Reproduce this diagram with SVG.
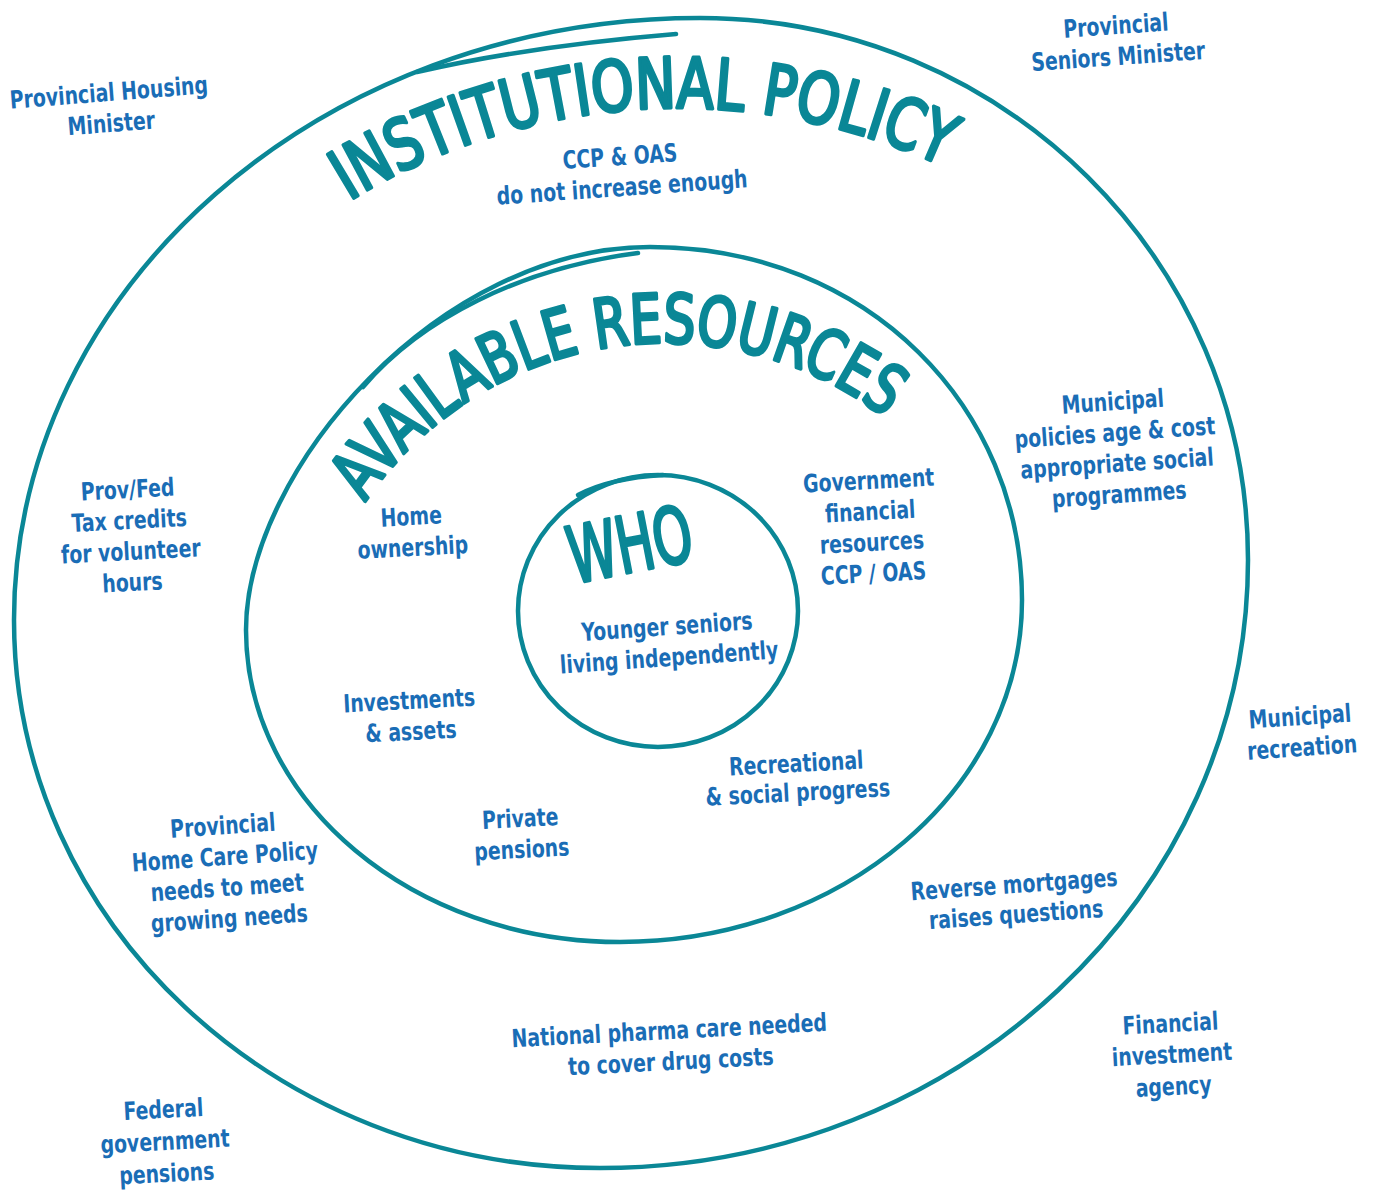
<svg xmlns="http://www.w3.org/2000/svg" width="1377" height="1192" viewBox="0 0 1377 1192">
  <defs>
    <style>
      .ring { fill: none; stroke: #0a8796; stroke-width: 4.5; stroke-linecap: round; stroke-linejoin: round; }
      .title { fill: #0a8796; stroke: #0a8796; stroke-width: 3.4; stroke-linejoin: round; stroke-linecap: round; font-family: "DejaVu Sans Condensed", "Liberation Sans Narrow", "Liberation Sans", sans-serif; font-weight: normal; }
      .label { fill: #1a6db6; font-family: "DejaVu Sans Condensed", "Liberation Sans Narrow", "Liberation Sans", sans-serif; font-weight: bold; font-size: 25px; text-anchor: middle; }
    </style>
    <!-- baselines for the curved headings -->
    <path id="arc-policy" d="M349,201 A630,630 0 0 1 949,169"/>
    <path id="arc-resources" d="M365,502 A362,362 0 0 1 898,428"/>
  </defs>

  <rect width="1377" height="1192" fill="#ffffff"/>

  <!-- rings, each with the overlapping start of its pen stroke -->
  <g id="connectors">
    <path class="ring" d="M700,18 C1003,18 1248,261 1248,560 C1248,896 958,1168 600,1168 C276,1168 14,923 14,620 C14,288 321,18 700,18 Z"/>
    <path class="ring" d="M417,72 Q530,46 676,34"/>
    <path class="ring" d="M650,247 C870,247 1022,410 1022,600 C1022,789 842,942 620,942 C413,942 246,802 246,630 C246,470 440,247 650,247 Z"/>
    <path class="ring" d="M363,387 C420,320 520,268 638,253"/>
    <ellipse class="ring" cx="658" cy="611" rx="140" ry="136"/>
    <path class="ring" d="M578,495 Q610,478 663,475"/>
  </g>

  <!-- outer ring: institutional policy -->
  <g id="institutional-policy">
    <text class="title" font-size="70"><textPath href="#arc-policy" textLength="620" lengthAdjust="spacingAndGlyphs">INSTITUTIONAL POLICY</textPath></text>
  </g>

  <!-- middle ring: available resources -->
  <g id="available-resources">
    <text class="title" font-size="68"><textPath href="#arc-resources" textLength="590" lengthAdjust="spacingAndGlyphs">AVAILABLE RESOURCES</textPath></text>
  </g>

  <!-- inner ring: who -->
  <g id="who">
    <text class="title" font-size="78" x="630" y="572" text-anchor="middle" textLength="125" lengthAdjust="spacingAndGlyphs" transform="rotate(-11 630 545)">WHO</text>
  </g>

  <!-- labels: each block is centred on its own origin -->
  <g id="provincial-housing-minister" transform="translate(110 108) rotate(-4.5)">
    <text class="label" transform="scale(0.84 1)"><tspan x="0" y="-7">Provincial Housing</tspan><tspan x="0" y="24">Minister</tspan></text>
  </g>
  <g id="provincial-seniors-minister" transform="translate(1117 41) rotate(-4)">
    <text class="label" transform="scale(0.84 1)"><tspan x="0" y="-7">Provincial</tspan><tspan x="0" y="24">Seniors Minister</tspan></text>
  </g>
  <g id="ccp-oas" transform="translate(621 172) rotate(-4)">
    <text class="label" transform="scale(0.84 1)"><tspan x="0" y="-7">CCP &amp; OAS</tspan><tspan x="0" y="24">do not increase enough</tspan></text>
  </g>
  <g id="municipal-policies" transform="translate(1116 448) rotate(-4)">
    <text class="label" transform="scale(0.84 1)"><tspan x="0" y="-38">Municipal</tspan><tspan x="0" y="-7">policies age &amp; cost</tspan><tspan x="0" y="24">appropriate social</tspan><tspan x="0" y="55">programmes</tspan></text>
  </g>
  <g id="tax-credits" transform="translate(130 536) rotate(-3)">
    <text class="label" transform="scale(0.84 1)"><tspan x="0" y="-38">Prov/Fed</tspan><tspan x="0" y="-7">Tax credits</tspan><tspan x="0" y="24">for volunteer</tspan><tspan x="0" y="55">hours</tspan></text>
  </g>
  <g id="home-ownership" transform="translate(412 532) rotate(-3)">
    <text class="label" transform="scale(0.84 1)"><tspan x="0" y="-7">Home</tspan><tspan x="0" y="24">ownership</tspan></text>
  </g>
  <g id="government-resources" transform="translate(871 527) rotate(-3)">
    <text class="label" transform="scale(0.84 1)"><tspan x="0" y="-38">Government</tspan><tspan x="0" y="-7">financial</tspan><tspan x="0" y="24">resources</tspan><tspan x="0" y="55">CCP / OAS</tspan></text>
  </g>
  <g id="younger-seniors" transform="translate(668 642) rotate(-4)">
    <text class="label" transform="scale(0.84 1)"><tspan x="0" y="-7">Younger seniors</tspan><tspan x="0" y="24">living independently</tspan></text>
  </g>
  <g id="investments" transform="translate(410 716) rotate(-3)">
    <text class="label" transform="scale(0.84 1)"><tspan x="0" y="-7">Investments</tspan><tspan x="0" y="24">&amp; assets</tspan></text>
  </g>
  <g id="municipal-recreation" transform="translate(1301 732) rotate(-4)">
    <text class="label" transform="scale(0.84 1)"><tspan x="0" y="-7">Municipal</tspan><tspan x="0" y="24">recreation</tspan></text>
  </g>
  <g id="recreational-progress" transform="translate(797 779) rotate(-3)">
    <text class="label" transform="scale(0.84 1)"><tspan x="0" y="-7">Recreational</tspan><tspan x="0" y="22">&amp; social progress</tspan></text>
  </g>
  <g id="private-pensions" transform="translate(521 834) rotate(-3)">
    <text class="label" transform="scale(0.84 1)"><tspan x="0" y="-7">Private</tspan><tspan x="0" y="24">pensions</tspan></text>
  </g>
  <g id="home-care-policy" transform="translate(226 872) rotate(-4)">
    <text class="label" transform="scale(0.84 1)"><tspan x="0" y="-38">Provincial</tspan><tspan x="0" y="-7">Home Care Policy</tspan><tspan x="0" y="24">needs to meet</tspan><tspan x="0" y="55">growing needs</tspan></text>
  </g>
  <g id="reverse-mortgages" transform="translate(1015 900) rotate(-4)">
    <text class="label" transform="scale(0.84 1)"><tspan x="0" y="-7">Reverse mortgages</tspan><tspan x="0" y="23">raises questions</tspan></text>
  </g>
  <g id="pharma-care" transform="translate(670 1046) rotate(-3)">
    <text class="label" transform="scale(0.84 1)"><tspan x="0" y="-7">National pharma care needed</tspan><tspan x="0" y="24">to cover drug costs</tspan></text>
  </g>
  <g id="financial-agency" transform="translate(1172 1055) rotate(-3)">
    <text class="label" transform="scale(0.84 1)"><tspan x="0" y="-23">Financial</tspan><tspan x="0" y="8">investment</tspan><tspan x="0" y="40">agency</tspan></text>
  </g>
  <g id="federal-pensions" transform="translate(165 1141) rotate(-3)">
    <text class="label" transform="scale(0.84 1)"><tspan x="0" y="-23">Federal</tspan><tspan x="0" y="9">government</tspan><tspan x="0" y="41">pensions</tspan></text>
  </g>
</svg>
